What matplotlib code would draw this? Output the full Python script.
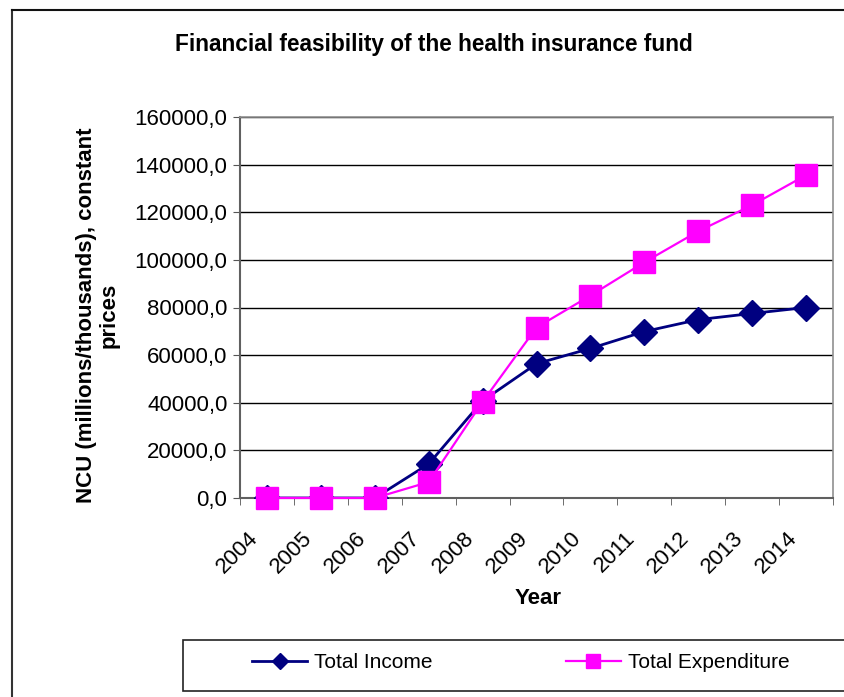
import numpy as np
import matplotlib
matplotlib.use("Agg")
import matplotlib.pyplot as plt
from matplotlib.lines import Line2D
from matplotlib.patches import Rectangle
from matplotlib.transforms import ScaledTranslation

plt.rcParams['font.family'] = ['Liberation Sans', 'DejaVu Sans']

# ── Dados ────────────────────────────────────────────────────────────────────
anos = ['2004', '2005', '2006', '2007', '2008', '2009',
        '2010', '2011', '2012', '2013', '2014']
receita = [0, 0, 0, 14300, 40800, 56400, 62800, 69900, 74900, 77500, 80000]
despesa = [0, 0, 0, 6700, 40400, 71600, 85000, 99000, 112000, 123000, 135600]

W, H = 845, 697
fig = plt.figure(figsize=(W / 100, H / 100), dpi=100, facecolor='white')

# área do gráfico em pixels
x0, x1, y0, y1 = 240, 833, 117, 498
ax = fig.add_axes([x0 / W, 1 - y1 / H, (x1 - x0) / W, (y1 - y0) / H])

x = np.arange(len(anos))
ax.plot(x, receita, color='#000080', linewidth=2, marker='D',
        markersize=13, label='Total Income', zorder=4)
ax.plot(x, despesa, color='#FF00FF', linewidth=1.6, marker='s',
        markersize=16, label='Total Expenditure', zorder=5, clip_on=False)

ax.set_xlim(-0.5, len(anos) - 0.5)
ax.set_ylim(0, 160000)
ax.set_yticks(np.arange(0, 160001, 20000))
ax.set_yticklabels([f'{v:.1f}'.replace('.', ',') for v in np.arange(0, 160001, 20000)],
                   fontsize=16)
ax.yaxis.grid(True, color='black', linewidth=1)
ax.set_axisbelow(True)

ax.set_xticks(x)
ax.set_xticklabels(anos, fontsize=16, rotation=45, ha='right', va='center',
                   rotation_mode='anchor')
ax.set_xticks(np.arange(-0.5, len(anos), 1), minor=True)
ax.tick_params(axis='x', which='major', length=0, pad=27)
ax.tick_params(axis='x', which='minor', length=5, color='#555555')
ax.tick_params(axis='y', length=5, color='#555555', pad=4)
for lbl in ax.get_xticklabels():
    lbl.set_transform(lbl.get_transform() + ScaledTranslation(-0.12, 0, fig.dpi_scale_trans))

for s in ['left', 'bottom']:
    ax.spines[s].set_color('#606060')
    ax.spines[s].set_linewidth(1.5)
for s in ['top', 'right']:
    ax.spines[s].set_color('#909090')
    ax.spines[s].set_linewidth(1.2)

ax.set_xlabel('Year', fontsize=16, fontweight='bold')
ax.xaxis.set_label_coords((538 - x0) / (x1 - x0), -(588 - y1) / (y1 - y0))
ax.set_ylabel('NCU (millions/thousands), constant\nprices', fontsize=16,
              fontweight='bold', linespacing=1.1)
ax.yaxis.set_label_coords(-(x0 - 120) / (x1 - x0), 0.48)

fig.text(434 / W, 1 - 44 / H, 'Financial feasibility of the health insurance fund',
         fontsize=16.3, fontweight='bold', ha='center', va='center')

# moldura externa
fig.add_artist(Line2D([12 / W, 12 / W], [0, 1 - 10 / H], color='#333333', linewidth=1.5))
fig.add_artist(Line2D([12 / W, 1], [1 - 10 / H, 1 - 10 / H], color='#111111', linewidth=1.5))

# caixa da legenda
fig.add_artist(Rectangle((183 / W, 1 - 691 / H), 1, 51 / H, transform=fig.transFigure,
                         facecolor='white', edgecolor='#222222', linewidth=1.2))
h, l = ax.get_legend_handles_labels()
leg = fig.legend(h, l, ncol=2, loc='center left', bbox_to_anchor=(252 / W, 1 - 663 / H),
                 frameon=False, fontsize=15, handlelength=2.64, columnspacing=6.4,
                 markerscale=0.6, handletextpad=0.34, borderpad=0, borderaxespad=0)

fig.savefig('out.png', dpi=100, facecolor='white')
